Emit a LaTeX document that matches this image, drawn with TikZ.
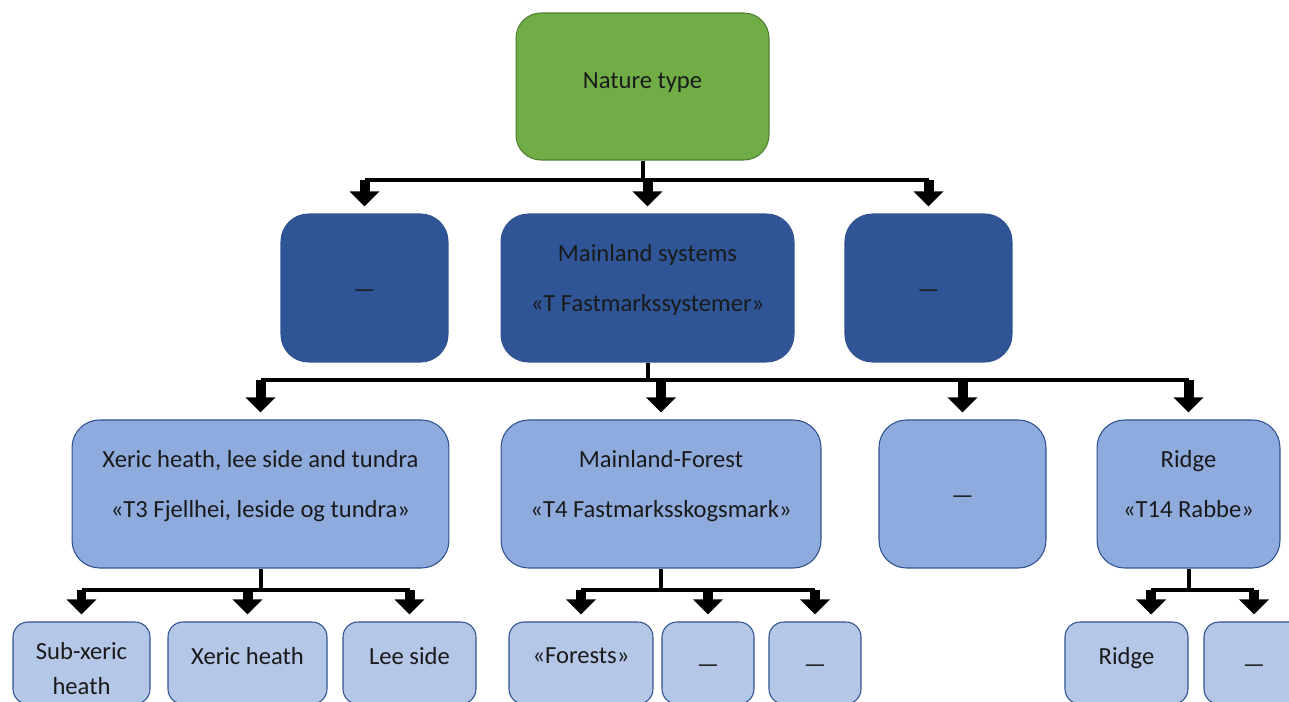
\documentclass[tikz,border=0pt]{standalone}
\usepackage{fontspec}
\setmainfont{Carlito}
\usetikzlibrary{arrows.meta}

\definecolor{natgreen}{HTML}{70AD47}
\definecolor{natedge}{HTML}{507E32}
\definecolor{sysblue}{HTML}{2F5597}
\definecolor{typeblue}{HTML}{8FAADC}
\definecolor{subblue}{HTML}{B4C7E7}
\definecolor{boxedge}{HTML}{2F528F}
\definecolor{ink}{HTML}{1A1A1A}

\tikzset{
  box/.style={draw=boxedge, line width=0.6pt, align=center, text=ink, inner sep=2pt,
    text depth=11pt, font=\fontsize{14pt}{17pt}\selectfont},
  naturebox/.style={box, fill=natgreen, draw=natedge, rounded corners=0.5cm, text depth=7pt},
  sysbox/.style={box, fill=sysblue, rounded corners=0.55cm, minimum height=2.96cm},
  typebox/.style={box, fill=typeblue, rounded corners=0.55cm, minimum height=2.96cm},
  subbox/.style={box, fill=subblue, rounded corners=0.3cm, minimum height=1.64cm, text depth=8pt},
  blank/.style={text height=11pt, text depth=0pt},
  conn/.style={line width=0.08cm, black},
  fatarrow/.style={line width=0.2cm, black, -{Triangle[length=0.3cm,width=0.58cm]}},
}

\begin{document}
\begin{tikzpicture}[x=0.02cm, y=-0.02cm]
      \useasboundingbox (0,0) rectangle (1289,702);
      \clip (0,0) rectangle (1289,702);
      \fill[white] (0,0) rectangle (1289,702);

      % top
      \node[naturebox, minimum width=5.06cm, minimum height=2.94cm] (nature) at (642.5,86.5) {Nature type};

      % systems
      \node[sysbox, blank, minimum width=3.34cm] (sysa) at (364.5,288) {—};
      \node[sysbox, minimum width=5.86cm] (mainland) at (647.5,288) {Mainland systems\\[11.5pt]«T Fastmarkssystemer»};
      \node[sysbox, blank, minimum width=3.34cm] (sysc) at (928.5,288) {—};

      % types
      \node[typebox, minimum width=7.54cm] (fjellhei) at (260.5,494) {Xeric heath, lee side and tundra\\[11.5pt]«T3 Fjellhei, leside og tundra»};
      \node[typebox, minimum width=6.40cm] (skogsmark) at (661,494) {Mainland-Forest\\[11.5pt]«T4 Fastmarksskogsmark»};
      \node[typebox, blank, minimum width=3.34cm] (typec) at (962.5,494) {—};
      \node[typebox, minimum width=3.66cm] (rabbe) at (1188.5,494) {Ridge\\[11.5pt]«T14 Rabbe»};

      % sub types
      \node[subbox, text height=36pt, text depth=0pt, minimum width=2.74cm] (subxeric) at (81.5,663) {Sub-xeric\\[3pt]heath};
      \node[subbox, minimum width=3.18cm] (xeric) at (247.5,663) {Xeric heath};
      \node[subbox, minimum width=2.66cm] (lee) at (409.5,663) {Lee side};
      \node[subbox, minimum width=2.88cm] (forests) at (581,663) {«Forests»};
      \node[subbox, blank, minimum width=1.84cm] (foresta) at (708,663) {—};
      \node[subbox, blank, minimum width=1.84cm] (forestb) at (815,663) {—};
      \node[subbox, minimum width=2.46cm] (ridge) at (1126.5,663) {Ridge};
      \node[subbox, blank, minimum width=2.00cm] (ridgeb) at (1254,663) {—};

      % buses
      \coordinate (bus1) at (0,180);
      \coordinate (bus2) at (0,380);
      \coordinate (bus3) at (0,590);
      \coordinate (ridgetop) at ([xshift=14pt]ridge.north);

      \draw[conn] (nature.south) -- (nature.south |- bus1);
      \draw[conn] (sysa.north |- bus1) -- (sysc.north |- bus1);
      \foreach \n in {sysa,mainland,sysc}
        \draw[fatarrow] (\n.north |- bus1) -- ([yshift=4pt]\n.north);

      \draw[conn] (mainland.south) -- (mainland.south |- bus2);
      \draw[conn] (fjellhei.north |- bus2) -- (rabbe.north |- bus2);
      \foreach \n in {fjellhei,skogsmark,typec,rabbe}
        \draw[fatarrow] (\n.north |- bus2) -- ([yshift=4pt]\n.north);

      \draw[conn] (fjellhei.south) -- (fjellhei.south |- bus3);
      \draw[conn] (subxeric.north |- bus3) -- (lee.north |- bus3);
      \foreach \n in {subxeric,xeric,lee}
        \draw[fatarrow] (\n.north |- bus3) -- ([yshift=4pt]\n.north);

      \draw[conn] (skogsmark.south) -- (skogsmark.south |- bus3);
      \draw[conn] (forests.north |- bus3) -- (forestb.north |- bus3);
      \foreach \n in {forests,foresta,forestb}
        \draw[fatarrow] (\n.north |- bus3) -- ([yshift=4pt]\n.north);

      \draw[conn] (rabbe.south) -- (rabbe.south |- bus3);
      \draw[conn] (ridgetop |- bus3) -- (ridgeb.north |- bus3);
      \draw[fatarrow] (ridgetop |- bus3) -- ([yshift=4pt]ridgetop);
      \draw[fatarrow] (ridgeb.north |- bus3) -- ([yshift=4pt]ridgeb.north);
    \end{tikzpicture}
\end{document}
